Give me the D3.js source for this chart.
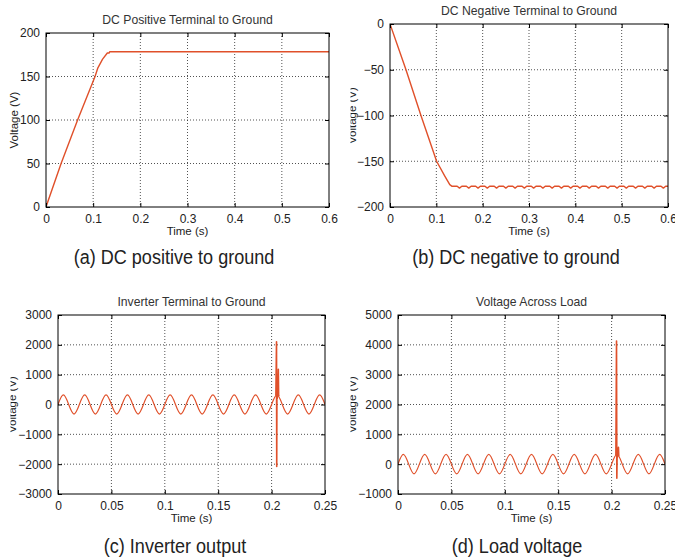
<!DOCTYPE html>
<html><head><meta charset="utf-8">
<script src="https://cdn.jsdelivr.net/npm/d3@7/dist/d3.min.js"></script>
<style>
html,body{margin:0;padding:0;background:#fff;}
svg{display:block;}
</style></head>
<body>
<svg id="chart" width="675" height="559"></svg>
<script>
// ---------- DATA ----------
// (a) DC positive terminal to ground
const dcPosTime = [0, 0.032, 0.067, 0.104, 0.110, 0.120, 0.130, 0.134, 0.135, 0.6];
const dcPosVolt = [0, 50, 100, 150, 160, 170, 177, 177, 178.5, 178.5];

// (b) DC negative terminal to ground: ramp, then ripple samples every 0.005 s from 0.135 s
const dcNegTime = [0, 0.0345, 0.0668, 0.1006, 0.1186, 0.129, 0.134];
const dcNegVolt = [0, -50, -100, -150, -166.5, -175.6, -177.4];
const dcNegRippleStart = 0.135, dcNegRippleStep = 0.005;
const dcNegRipple = [
 -177.4,-177.4,-177.4,-179.4, -177.4,-177.4,-177.4,-179.4, -177.4,-177.4,-177.4,-179.4,
 -177.4,-177.4,-177.4,-179.4, -177.4,-177.4,-177.4,-179.4, -177.4,-177.4,-177.4,-179.4,
 -177.4,-177.4,-177.4,-179.4, -177.4,-177.4,-177.4,-179.4, -177.4,-177.4,-177.4,-179.4,
 -177.4,-177.4,-177.4,-179.4, -177.4,-177.4,-177.4,-179.4, -177.4,-177.4,-177.4,-179.4,
 -177.4,-177.4,-177.4,-179.4, -177.4,-177.4,-177.4,-179.4, -177.4,-177.4,-177.4,-179.4,
 -177.4,-177.4,-177.4,-179.4, -177.4,-177.4,-177.4,-179.4, -177.4,-177.4,-177.4,-179.4,
 -177.4,-177.4,-177.4,-179.4, -177.4,-177.4,-177.4,-179.4, -177.4,-177.4,-177.4,-179.4,
 -177.4,-177.4,-177.4,-179.4, -177.4,-177.4,-177.4,-179.4, -177.4,-177.4,-177.4,-179.4,
 -177.4,-177.4
];

// (c) Inverter terminal to ground: quarter-period samples (every 0.005 s) of the 50 Hz wave
const acStep = 0.005;
const invWave = [0,320,0,-320, 0,320,0,-320, 0,320,0,-320, 0,320,0,-320, 0,320,0,-320,
 0,320,0,-320, 0,320,0,-320, 0,320,0,-320, 0,320,0,-320, 0,320,0,-320,
 0,320,0,-320, 0,320,0,-320, 0,320,0];
const invSpikeTime = [0.2040, 0.2046, 0.2048, 0.2050, 0.2053, 0.2058, 0.2063, 0.2066, 0.2072];
const invSpikeVolt = [300, 2100, -2080, 650, 200, 450, 1180, 300, 320];

// (d) Voltage across load
const loadWave = [0,325,0,-325, 0,325,0,-325, 0,325,0,-325, 0,325,0,-325, 0,325,0,-325,
 0,325,0,-325, 0,325,0,-325, 0,325,0,-325, 0,325,0,-325, 0,325,0,-325,
 0,325,0,-325, 0,325,0,-325, 0,325,0];
const loadSpikeTime = [0.2040, 0.2046, 0.2049, 0.2052, 0.2058, 0.2064, 0.2067, 0.2072];
const loadSpikeVolt = [300, 4130, -470, 350, 250, 565, 300, 320];

// Ticks
const xTicksA = [0, 0.1, 0.2, 0.3, 0.4, 0.5, 0.6];
const xTickLabelsA = ["0", "0.1", "0.2", "0.3", "0.4", "0.5", "0.6"];
const xTicksC = [0, 0.05, 0.1, 0.15, 0.2, 0.25];
const xTickLabelsC = ["0", "0.05", "0.1", "0.15", "0.2", "0.25"];
const yTicksA = [0, 50, 100, 150, 200];
const yTicksB = [-200, -150, -100, -50, 0];
const yTicksC = [-3000, -2000, -1000, 0, 1000, 2000, 3000];
const yTicksD = [-1000, 0, 1000, 2000, 3000, 4000, 5000];

const titles = ["DC Positive Terminal to Ground", "DC Negative Terminal to Ground",
                "Inverter Terminal to Ground", "Voltage Across Load"];
const captions = ["(a) DC positive to ground", "(b) DC negative to ground",
                  "(c) Inverter output", "(d) Load voltage"];
const xLabel = "Time (s)";
const yLabel = "Voltage (V)";

// ---------- BUILD SERIES ----------
const zip = (ts, vs) => ts.map((t, i) => [t, vs[i]]);
const seriesA = [zip(dcPosTime, dcPosVolt)];
const seriesB = [zip(dcNegTime, dcNegVolt).concat(dcNegRipple.map((v, i) => [dcNegRippleStart + i * dcNegRippleStep, v]))];
const waveC = invWave.map((v, i) => [i * acStep, v]);
const waveD = loadWave.map((v, i) => [i * acStep, v]);

const LINE = "#e0502a";
const FONT = "'Liberation Sans', Arial, Helvetica, sans-serif";
const svg = d3.select("#chart");

const panels = [
  {L:46, R:329, T:33, B:207, x:[0,0.6], y:[0,200], xt:xTicksA, xl:xTickLabelsA, yt:yTicksA,
   title:titles[0], titleY:24, cap:captions[0], capX:174, capY:264, ylabX:18, ylabClip:null,
   lines:[{d:seriesA[0], w:1.4}], curves:[]},
  {L:390, R:668, T:24, B:207, x:[0,0.6], y:[-200,0], xt:xTicksA, xl:xTickLabelsA, yt:yTicksB,
   title:titles[1], titleY:15, cap:captions[1], capX:516, capY:264, ylabX:356, ylabClip:350.5,
   lines:[{d:seriesB[0], w:1.4}], curves:[]},
  {L:58, R:325, T:315, B:494, x:[0,0.25], y:[-3000,3000], xt:xTicksC, xl:xTickLabelsC, yt:yTicksC,
   title:titles[2], titleY:306, cap:captions[2], capX:175, capY:553, ylabX:16, ylabClip:10.5,
   lines:[{d:zip(invSpikeTime, invSpikeVolt), w:1.6}], curves:[waveC]},
  {L:398, R:665, T:315, B:494, x:[0,0.25], y:[-1000,5000], xt:xTicksC, xl:xTickLabelsC, yt:yTicksD,
   title:titles[3], titleY:306, cap:captions[3], capX:517, capY:553, ylabX:356, ylabClip:350.5,
   lines:[{d:zip(loadSpikeTime, loadSpikeVolt), w:1.6}], curves:[waveD]}
];

const fmtY = d3.format("");

panels.forEach((p, idx) => {
  const x = d3.scaleLinear().domain(p.x).range([p.L, p.R]);
  const y = d3.scaleLinear().domain(p.y).range([p.B, p.T]);
  const g = svg.append("g");
  const clipId = "clip" + idx;
  svg.append("clipPath").attr("id", clipId).append("rect")
    .attr("x", p.L).attr("y", p.T).attr("width", p.R - p.L).attr("height", p.B - p.T);

  // grid
  const grid = g.append("g").attr("stroke", "#000").attr("stroke-width", 0.8)
    .attr("stroke-dasharray", "1,2").attr("opacity", 0.85);
  p.xt.forEach(t => {
    if (t === p.x[0] || t === p.x[1]) return;
    grid.append("line").attr("x1", x(t)).attr("x2", x(t)).attr("y1", p.T).attr("y2", p.B);
  });
  p.yt.forEach(t => {
    if (t === p.y[0] || t === p.y[1]) return;
    grid.append("line").attr("x1", p.L).attr("x2", p.R).attr("y1", y(t)).attr("y2", y(t));
  });

  // data
  const plot = g.append("g").attr("clip-path", `url(#${clipId})`);
  p.curves.forEach(c => {
    plot.append("path").datum(c).attr("fill", "none").attr("stroke", LINE).attr("stroke-width", 1.2)
      .attr("d", d3.line().x(d => x(d[0])).y(d => y(d[1])).curve(d3.curveNatural));
  });
  p.lines.forEach(l => {
    plot.append("path").datum(l.d).attr("fill", "none").attr("stroke", LINE).attr("stroke-width", l.w)
      .attr("stroke-linejoin", "round")
      .attr("d", d3.line().x(d => x(d[0])).y(d => y(d[1])));
  });

  // axes (MATLAB style, ticks inward)
  const xAx = d3.axisBottom(x).tickValues(p.xt).tickFormat((d, i) => p.xl[i]).tickSize(-4).tickPadding(7);
  const xTop = d3.axisTop(x).tickValues(p.xt).tickFormat("").tickSize(-4);
  const yAx = d3.axisLeft(y).tickValues(p.yt).tickFormat(fmtY).tickSize(-4).tickPadding(6);
  const yRight = d3.axisRight(y).tickValues(p.yt).tickFormat("").tickSize(-4);
  const styleAx = sel => {
    sel.select(".domain").remove();
    sel.selectAll("line").attr("stroke", "#000");
    sel.selectAll("text").attr("font-family", FONT).attr("font-size", 12).attr("fill", "#222");
  };
  g.append("g").attr("transform", `translate(0,${p.B})`).call(xAx).call(styleAx);
  g.append("g").attr("transform", `translate(0,${p.T})`).call(xTop).call(styleAx);
  g.append("g").attr("transform", `translate(${p.L},0)`).call(yAx).call(styleAx);
  g.append("g").attr("transform", `translate(${p.R},0)`).call(yRight).call(styleAx);

  g.append("rect").attr("x", p.L).attr("y", p.T).attr("width", p.R - p.L).attr("height", p.B - p.T)
    .attr("fill", "none").attr("stroke", "#000").attr("stroke-width", 1);

  // title
  g.append("text").attr("x", (p.L + p.R) / 2).attr("y", p.titleY).attr("text-anchor", "middle")
    .attr("font-family", FONT).attr("font-size", 12.2).attr("fill", "#333").text(p.title);

  // x label
  g.append("text").attr("x", (p.L + p.R) / 2).attr("y", p.B + 28).attr("text-anchor", "middle")
    .attr("font-family", FONT).attr("font-size", 11.5).attr("fill", "#222").text(xLabel);

  // y label
  let ylg = g.append("g");
  if (p.ylabClip !== null) {
    const cid = "yclip" + idx;
    svg.append("clipPath").attr("id", cid).append("rect")
      .attr("x", p.ylabClip).attr("y", p.T).attr("width", 20).attr("height", p.B - p.T);
    ylg.attr("clip-path", `url(#${cid})`);
  }
  ylg.append("text").attr("transform", `translate(${p.ylabX},${(p.T + p.B) / 2}) rotate(-90)`)
    .attr("text-anchor", "middle").attr("font-family", FONT).attr("font-size", 11.5)
    .attr("fill", "#222").text(yLabel);

  // caption (condensed sans)
  svg.append("text").attr("transform", `translate(${p.capX},${p.capY}) scale(0.86,1)`)
    .attr("text-anchor", "middle")
    .attr("font-family", FONT)
    .attr("font-size", 21).attr("fill", "#222").text(p.cap);
});
</script>
</body></html>
